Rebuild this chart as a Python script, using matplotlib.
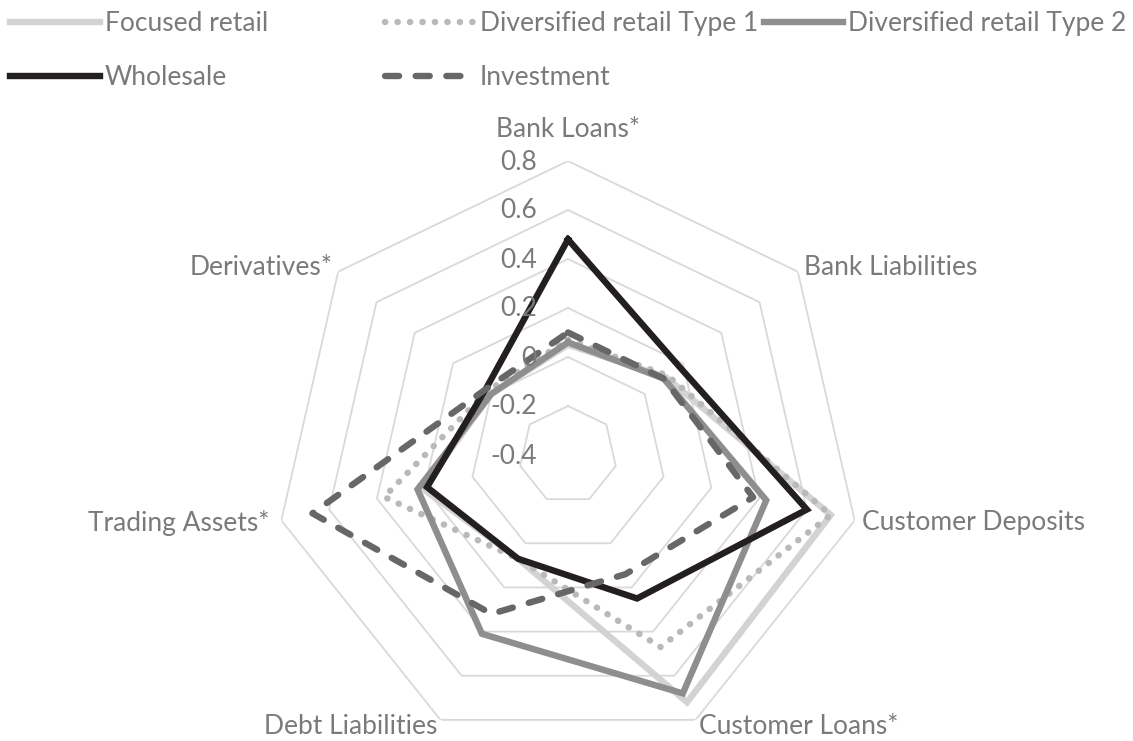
import numpy as np
import matplotlib.pyplot as plt

plt.rcParams['font.family'] = ['Lato', 'DejaVu Sans']

# axis categories (clockwise from top)
categories = ['Bank Loans*', 'Bank Liabilities', 'Customer Deposits', 'Customer Loans*',
              'Debt Liabilities', 'Trading Assets*', 'Derivatives*']

# series values
focused = [0.05, 0.11, 0.70, 0.72, 0.07, 0.21, 0.00]
div_type1 = [0.07, 0.12, 0.70, 0.47, 0.07, 0.37, 0.02]
div_type2 = [0.06, 0.10, 0.43, 0.68, 0.41, 0.23, 0.00]
wholesale = [0.48, 0.18, 0.60, 0.25, 0.07, 0.19, 0.03]
investment = [0.10, 0.10, 0.375, 0.14, 0.32, 0.67, 0.03]

# radial scale
r_min, r_max = -0.4, 0.8
ring_values = [-0.2, 0.0, 0.2, 0.4, 0.6, 0.8]
tick_values = [-0.4, -0.2, 0.0, 0.2, 0.4, 0.6, 0.8]
tick_labels = ['-0.4', '-0.2', '0', '0.2', '0.4', '0.6', '0.8']

text_col = '#7a7a7a'
fs = 19

n = len(categories)
theta = np.linspace(0, 2 * np.pi, n, endpoint=False)
theta_c = np.append(theta, theta[0])

def closed(v):
    return np.append(v, v[0])

W, H = 1133, 741
fig = plt.figure(figsize=(W / 100, H / 100), dpi=100)
cx, cy, R = 568, 455, 294
ax = fig.add_axes([(cx - R) / W, (H - cy - R) / H, 2 * R / W, 2 * R / H], projection='polar')
ax.set_theta_zero_location('N')
ax.set_theta_direction(-1)
ax.set_ylim(r_min, r_max)
ax.grid(False)
ax.spines['polar'].set_visible(False)
ax.set_xticks([])
ax.set_yticks([])
ax.patch.set_visible(False)

# heptagon grid rings
for v in ring_values:
    ax.plot(theta_c, [v] * (n + 1), color='#d9d9d9', lw=1.3, zorder=1)

lw = 4.6
l_foc, = ax.plot(theta_c, closed(focused), color='#d3d3d3', lw=lw,
                 solid_joinstyle='miter', zorder=2)
l_t1, = ax.plot(theta_c, closed(div_type1), color='#b9b9b9', lw=lw,
                linestyle=(0, (0.05, 1.9)), dash_capstyle='round', zorder=3)
l_t2, = ax.plot(theta_c, closed(div_type2), color='#8e8e8e', lw=lw,
                solid_joinstyle='miter', zorder=4)
l_whs, = ax.plot(theta_c, closed(wholesale), color='#231f20', lw=lw,
                 solid_joinstyle='miter', zorder=5)
l_inv, = ax.plot(theta_c, closed(investment), color='#676767', lw=lw,
                 linestyle=(0, (2.2, 2.6)), dash_capstyle='round', zorder=6)

# value labels up the top spoke
for v, lab in zip(tick_values, tick_labels):
    ax.annotate(lab, xy=(0, v), xytext=(-31, -1), textcoords='offset pixels',
                ha='right', va='center', fontsize=fs, color=text_col, zorder=7)

# category labels
label_r = [0.93, 0.83, 0.83, 0.83, 0.83, 0.85, 0.83]
label_ha = ['center', 'left', 'left', 'left', 'right', 'right', 'right']
for t, name, rr, ha in zip(theta, categories, label_r, label_ha):
    ax.text(t, rr, name, ha=ha, va='center', fontsize=fs, color=text_col,
            clip_on=False)

# legend: three fixed-width columns like the original
leg_kw = dict(loc='upper left', frameon=False, fontsize=fs, handlelength=3.4,
              handletextpad=0.19, labelspacing=1.1, borderpad=0, borderaxespad=0,
              labelcolor=text_col)
top = 1 - 11 / H
leg1 = fig.legend([l_foc, l_whs], ['Focused retail', 'Wholesale'],
                  bbox_to_anchor=(10 / W, top), **leg_kw)
leg2 = fig.legend([l_t1, l_inv], ['Diversified retail Type 1', 'Investment'],
                  bbox_to_anchor=(385 / W, top), **leg_kw)
leg3_kw = dict(leg_kw, handlelength=3.0, handletextpad=0.2)
leg3 = fig.legend([l_t2], ['Diversified retail Type 2'],
                  bbox_to_anchor=(764 / W, top), **leg3_kw)

fig.savefig('out.png', dpi=100)
